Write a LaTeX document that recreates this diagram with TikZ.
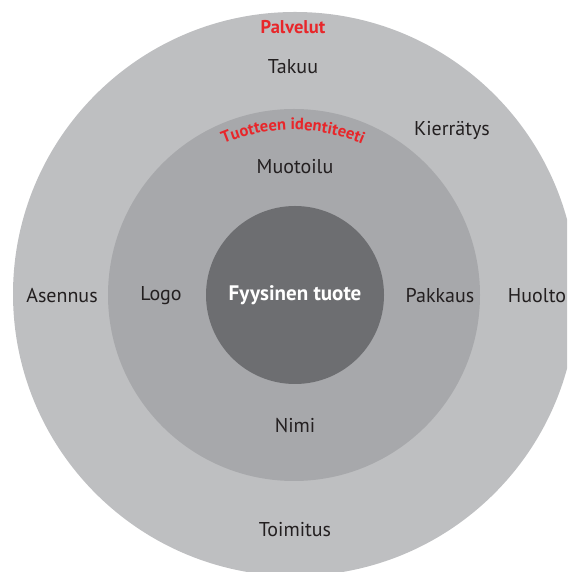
\documentclass[tikz,border=0pt]{standalone}
\usepackage{fontspec}
\setmainfont{PT Sans}
\usetikzlibrary{decorations.text}
\definecolor{ringout}{RGB}{190,191,193}
\definecolor{ringmid}{RGB}{167,168,171}
\definecolor{core}{RGB}{109,110,113}
\definecolor{labelred}{RGB}{232,38,42}
\definecolor{ink}{RGB}{35,31,32}
\tikzset{
  lbl/.style={text=ink, font=\fontsize{20}{23}\selectfont, inner sep=0pt},
  title/.style={text=labelred, font=\bfseries\fontsize{18.5}{21}\selectfont, inner sep=0pt},
  coretext/.style={text=white, font=\bfseries\fontsize{21}{24}\selectfont, inner sep=0pt}
}
\begin{document}
\begin{tikzpicture}[x=1pt,y=1pt]
  \useasboundingbox (0,0) rectangle (567,572);
  \clip (0,0) rectangle (567,572);
  % three nested discs
  \fill[ringout] (295,278) circle (282);
  \fill[ringmid] (294,277) circle (186);
  \fill[core] (295,277) circle (89);
  % ring titles
  \node[title] (palvelut) at (293,545) {Palvelut};
  \path[decorate, decoration={text along path, text align=center,
      text={|\bfseries\fontsize{16.5}{19}\selectfont\color{labelred}|Tuotteen identiteeti}}]
      (293,262) ++(135:180) arc[start angle=135, end angle=45, radius=180];
  % centre
  \node[coretext] (core) at (295,277) {Fyysinen tuote};
  % identity ring
  \node[lbl] (muotoilu) at (295,405) {Muotoilu};
  \node[lbl] (logo) at (161,276) {Logo};
  \node[lbl] (pakkaus) at (440,276) {Pakkaus};
  \node[lbl] (nimi) at (295,146) {Nimi};
  % services ring
  \node[lbl] (takuu) at (293,505) {Takuu};
  \node[lbl] (kierratys) at (452,442) {Kierrätys};
  \node[lbl] (asennus) at (62,276) {Asennus};
  \node[lbl] (huolto) at (537,276) {Huolto};
  \node[lbl] (toimitus) at (295,42) {Toimitus};
\end{tikzpicture}
\end{document}
